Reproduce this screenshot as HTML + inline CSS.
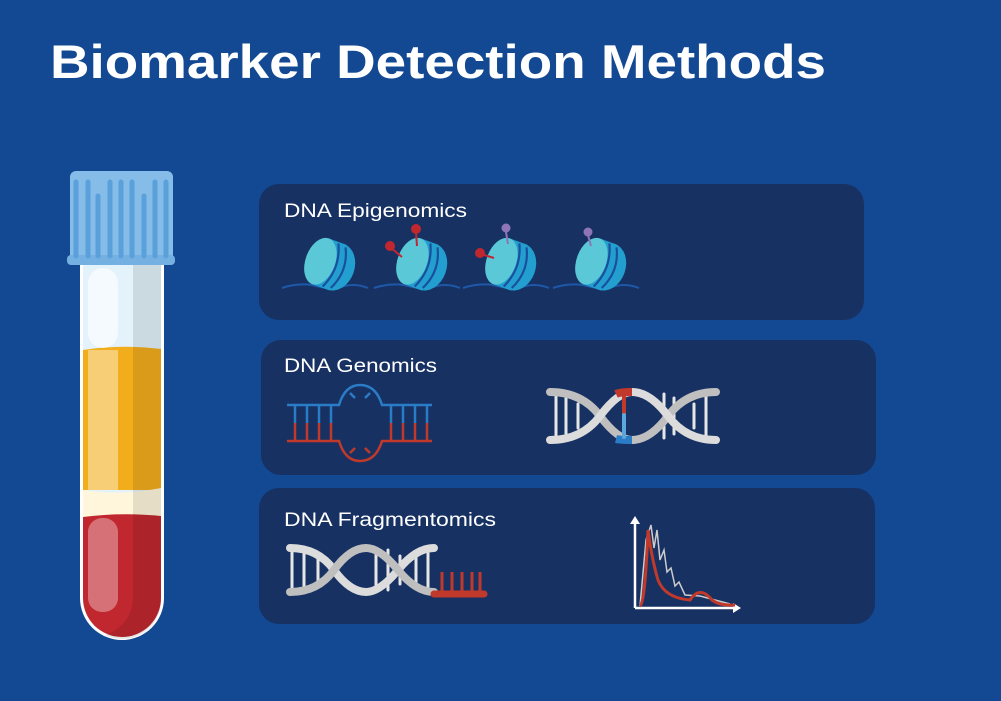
<!DOCTYPE html>
<html><head><style>body{margin:0;background:#134993}svg{display:block}</style></head><body>
<svg width="1001" height="701" viewBox="0 0 1001 701" xmlns="http://www.w3.org/2000/svg" font-family="Liberation Sans, sans-serif">
<rect width="1001" height="701" fill="#134993"/>
<text x="50" y="78" font-size="47" font-weight="bold" fill="#fff" textLength="776" lengthAdjust="spacingAndGlyphs">Biomarker Detection Methods</text>

<!-- tube -->
<g>
<path d="M80 262 V598 a42 42 0 0 0 84 0 V262 Z" fill="#fff"/>
<path d="M83 262 V598 a39 39 0 0 0 78 0 V262 Z" fill="#e3f2fb"/>
<path d="M83 350 Q120 344 161 349 V490 H83 Z" fill="#f2ad1c"/>
<path d="M83 490 Q120 496 161 488 V517 H83 Z" fill="#fff6dc"/>
<path d="M83 517 Q120 512 161 516 V598 a39 39 0 0 1 -78 0 Z" fill="#c1272f"/>
<path d="M133 262 V598 a39 39 0 0 1 -28 37 a39 39 0 0 0 56 -37 V262 Z" fill="#000" opacity="0.1"/>
<rect x="88" y="268" width="30" height="80" rx="15" fill="#fff" opacity="0.6"/>
<rect x="88" y="350" width="30" height="140" fill="#fff" opacity="0.4"/>
<rect x="88" y="518" width="30" height="94" rx="14" fill="#fff" opacity="0.35"/>
<rect x="70" y="171" width="103" height="92" rx="6" fill="#86bce8"/>
<rect x="67" y="255" width="108" height="10" rx="4" fill="#75b0e2"/>
<g stroke="#5aa0da" stroke-width="5" stroke-linecap="round">
<line x1="76" y1="182" x2="76" y2="256"/><line x1="88" y1="182" x2="88" y2="256"/><line x1="98" y1="196" x2="98" y2="256"/><line x1="110" y1="182" x2="110" y2="256"/><line x1="121" y1="182" x2="121" y2="256"/><line x1="132" y1="182" x2="132" y2="256"/><line x1="144" y1="196" x2="144" y2="256"/><line x1="155" y1="182" x2="155" y2="256"/><line x1="166" y1="182" x2="166" y2="256"/>
</g>
</g>

<!-- panels -->
<rect x="259" y="184" width="605" height="136" rx="20" fill="#173163"/>
<rect x="261" y="340" width="615" height="135" rx="20" fill="#173163"/>
<rect x="259" y="488" width="616" height="136" rx="20" fill="#173163"/>
<g fill="#fff" font-size="19">
<text x="284" y="217" textLength="183" lengthAdjust="spacingAndGlyphs">DNA Epigenomics</text>
<text x="284" y="372" textLength="153" lengthAdjust="spacingAndGlyphs">DNA Genomics</text>
<text x="284" y="526" textLength="212" lengthAdjust="spacingAndGlyphs">DNA Fragmentomics</text>
</g>

<!-- nucleosomes -->
<defs>
<g id="nuc">
<path d="M0 0 q15 -5 30 -3 q20 5 26 3 q15 -6 30 0" fill="none" stroke="#1e58a8" stroke-width="2"/>
<g transform="translate(46 -24) rotate(20) scale(1.35)">
<ellipse cx="6" cy="0" rx="14" ry="18" fill="#229fcf"/>
<path d="M-6 -18 h14 v36 h-14 z" fill="#229fcf"/>
<path d="M2 -17 q8 17 0 34 M8 -16 q8 16 0 32" fill="none" stroke="#1a4f9e" stroke-width="1.6"/>
<ellipse cx="-6" cy="0" rx="11" ry="18" fill="#5ac8d6"/>
</g>
</g>
</defs>
<use href="#nuc" x="282" y="288"/>
<use href="#nuc" x="374" y="288"/>
<use href="#nuc" x="463" y="288"/>
<use href="#nuc" x="553" y="288"/>
<g stroke-width="2">
<line x1="416" y1="232" x2="417" y2="246" stroke="#c1272f"/><circle cx="416" cy="229" r="5" fill="#c1272f"/>
<line x1="391" y1="248" x2="402" y2="257" stroke="#c1272f"/><circle cx="390" cy="246" r="5" fill="#c1272f"/>
<line x1="506" y1="232" x2="508" y2="244" stroke="#8e75b7"/><circle cx="506" cy="228" r="4.5" fill="#8e75b7"/>
<line x1="481" y1="254" x2="494" y2="258" stroke="#c1272f"/><circle cx="480" cy="253" r="5" fill="#c1272f"/>
<line x1="588" y1="235" x2="591" y2="246" stroke="#8e75b7"/><circle cx="588" cy="232" r="4.5" fill="#8e75b7"/>
</g>

<!-- mismatch bubble -->
<g fill="none" stroke-width="2.5">
<path d="M287 405 H339 Q345 385 360 385 Q376 385 382 405 H432" stroke="#2a7cc6"/>
<path d="M287 441 H339 Q345 461 360 461 Q376 461 382 441 H432" stroke="#c0392b"/>
<g stroke="#2a7cc6"><path d="M295 405v18M307 405v18M319 405v18M331 405v18M391 405v18M403 405v18M415 405v18M427 405v18M350 393l5 5M370 393l-5 5"/></g>
<g stroke="#c0392b"><path d="M295 423v18M307 423v18M319 423v18M331 423v18M391 423v18M403 423v18M415 423v18M427 423v18M350 453l5 -5M370 453l-5 -5"/></g>
</g>

<!-- DNA helix genomics -->
<g stroke-linecap="round" fill="none">
<g stroke="#e6e6e6" stroke-width="3"><path d="M556 394v44M566 398v36M578 404v24M664 394v44M674 398v36M694 404v24M706 396v40"/></g>
<path d="M550 392 Q582 392 600 416 Q618 440 632 440 Q650 440 668 416 Q686 392 716 392" stroke="#bfbfbf" stroke-width="8"/>
<path d="M550 440 Q582 440 600 416 Q618 392 632 392 Q650 392 668 416 Q686 440 716 440" stroke="#dcdcdc" stroke-width="8"/>
<path d="M616 394 Q620 392 632 392" stroke="#c0392b" stroke-width="8" stroke-linecap="butt"/>
<path d="M616 439 Q620 440 632 440" stroke="#2a7cc6" stroke-width="8" stroke-linecap="butt"/>
<path d="M624 395v20" stroke="#c0392b" stroke-width="4"/><path d="M624 415v22" stroke="#5aa6dd" stroke-width="4"/>
</g>

<!-- DNA helix fragmentomics -->
<g stroke-linecap="round" fill="none">
<g stroke="#e6e6e6" stroke-width="3"><path d="M292 550v40M304 552v36M318 558v24M376 552v36M388 550v40M400 556v28M416 554v32M428 550v40"/></g>
<path d="M290 548 Q318 548 334 570 Q350 592 366 592 Q380 592 398 570 Q416 548 434 548" stroke="#dcdcdc" stroke-width="8"/>
<path d="M290 592 Q318 592 334 570 Q350 548 366 548 Q380 548 398 570 Q416 592 434 592" stroke="#bfbfbf" stroke-width="8"/>
<path d="M434 594 H484" stroke="#c0392b" stroke-width="7"/>
<g stroke="#c0392b" stroke-width="3" stroke-linecap="butt"><path d="M442 592v-20M452 592v-20M462 592v-20M472 592v-20M480 592v-20"/></g>
</g>

<!-- chart -->
<g fill="none">
<path d="M635 608V522" stroke="#fff" stroke-width="2.5"/><path d="M630 524l5 -8 5 8z" fill="#fff"/>
<path d="M635 608H735" stroke="#fff" stroke-width="2.5"/><path d="M733 603l8 5 -8 5z" fill="#fff"/>
<path d="M640 606 L646 540 L651 525 L654 548 L657 530 L660 560 L664 550 L667 572 L671 568 L675 586 L679 582 L685 595 L700 596 L730 604" stroke="#ccc" stroke-width="1.5"/>
<path d="M640 606 Q645 604 648 530 Q652 560 658 580 Q665 598 690 600 Q700 585 712 600 Q720 606 735 605" stroke="#c0392b" stroke-width="3"/>
</g>
</svg>
</body></html>
